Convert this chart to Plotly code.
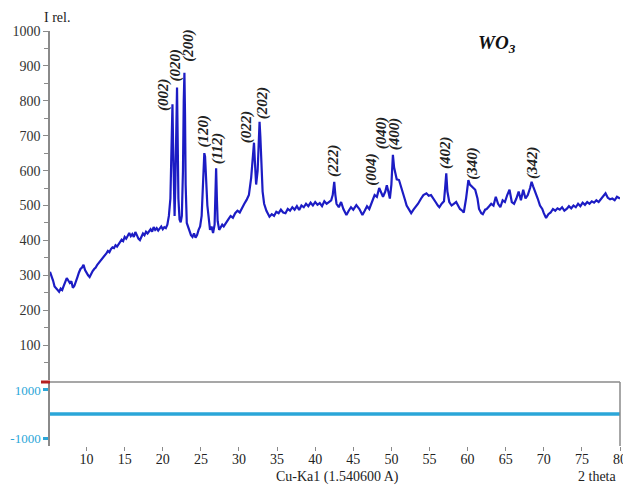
import plotly.graph_objects as go

two_theta = [5.2, 5.4, 5.6, 5.8, 6.0, 6.2, 6.4, 6.6, 6.8, 7.0, 7.2, 7.4, 7.6, 7.8, 8.0, 8.2, 8.4, 8.6, 8.8, 9.0,
             9.2, 9.4, 9.6, 9.8, 10.0, 10.2, 10.4, 10.6, 10.8, 11.0, 11.2, 11.4, 11.6, 11.8, 12.0, 12.2, 12.4, 12.6,
             12.8, 13.0, 13.2, 13.4, 13.6, 13.8, 14.0, 14.2, 14.4, 14.6, 14.8, 15.0, 15.2, 15.4, 15.6, 15.8, 16.0,
             16.2, 16.4, 16.6, 16.8, 17.0, 17.2, 17.4, 17.6, 17.8, 18.0, 18.2, 18.4, 18.6, 18.8, 19.0, 19.2, 19.4,
             19.6, 19.8, 20.0, 20.2, 20.4, 20.6, 20.8, 21.0, 21.1, 21.2, 21.27, 21.35, 21.45, 21.55, 21.65, 21.75,
             21.87, 21.95, 22.05, 22.2, 22.35, 22.5, 22.65, 22.75, 22.84, 22.92, 23.0, 23.15, 23.3, 23.5, 23.7,
             23.9, 24.1, 24.3, 24.5, 24.7, 24.9, 25.1, 25.3, 25.45, 25.55, 25.7, 25.85, 26.0, 26.2, 26.4, 26.6,
             26.8, 26.9, 27.0, 27.1, 27.2, 27.4, 27.6, 27.8, 28.0, 28.3, 28.6, 28.9, 29.2, 29.5, 29.8, 30.1, 30.4,
             30.7, 31.0, 31.3, 31.6, 31.8, 31.97, 32.1, 32.25, 32.45, 32.6, 32.7, 32.8, 32.95, 33.1, 33.3, 33.6,
             34.0, 34.3, 34.6, 34.9, 35.2, 35.5, 35.8, 36.1, 36.4, 36.7, 37.0, 37.3, 37.6, 37.9, 38.2, 38.5, 38.8,
             39.1, 39.4, 39.7, 40.0, 40.3, 40.6, 40.9, 41.2, 41.5, 41.8, 42.1, 42.3, 42.5, 42.65, 42.8, 43.1, 43.4,
             43.7, 44.1, 44.4, 44.7, 45.0, 45.4, 45.8, 46.2, 46.5, 46.8, 47.1, 47.5, 47.8, 48.1, 48.4, 48.7, 48.9,
             49.2, 49.4, 49.6, 49.8, 50.0, 50.2, 50.35, 50.5, 50.7, 51.0, 51.2, 51.5, 51.8, 52.0, 52.3, 52.6, 52.9,
             53.2, 53.5, 53.9, 54.2, 54.6, 54.9, 55.2, 55.5, 55.8, 56.1, 56.3, 56.6, 56.9, 57.05, 57.2, 57.35, 57.6,
             57.9, 58.2, 58.5, 58.8, 59.0, 59.3, 59.5, 59.8, 60.0, 60.1, 60.3, 60.5, 60.8, 61.0, 61.3, 61.5, 61.8,
             62.0, 62.3, 62.5, 62.8, 63.1, 63.4, 63.7, 64.0, 64.3, 64.6, 64.9, 65.2, 65.5, 65.8, 66.1, 66.4, 66.7,
             67.0, 67.3, 67.6, 67.9, 68.2, 68.4, 68.6, 68.9, 69.2, 69.5, 69.8, 70.0, 70.3, 70.6, 70.9, 71.2, 71.5,
             71.8, 72.1, 72.4, 72.7, 73.0, 73.3, 73.6, 73.9, 74.2, 74.5, 74.8, 75.1, 75.4, 75.7, 76.0, 76.3, 76.6,
             76.9, 77.2, 77.5, 77.8, 78.1, 78.4, 78.7, 79.0, 79.3, 79.6, 80.0]

intensity = [310, 300, 285, 268, 262, 258, 253, 262, 258, 270, 282, 292, 285, 278, 283, 264, 270, 280, 295, 308,
             318, 322, 330, 315, 305, 300, 295, 305, 312, 318, 322, 330, 335, 340, 348, 352, 358, 363,
             370, 366, 375, 380, 378, 386, 382, 390, 395, 402, 398, 410, 405, 415, 421, 412, 418,
             410, 424, 415, 405, 401, 412, 420, 415, 425, 420, 428, 432, 425, 438, 430, 435, 428,
             436, 440, 432, 438, 435, 445, 470, 520, 620, 740, 790, 680, 520, 470, 560, 720,
             838, 700, 520, 460, 452, 470, 600, 800, 880, 760, 560, 450, 440, 428, 415,
             410, 420, 408, 415, 430, 440, 470, 560, 650, 640, 560, 500, 470, 430, 440, 421,
             445, 520, 607, 520, 455, 430, 438, 445, 440, 452, 460, 470, 465, 478, 485, 480, 495,
             505, 516, 530, 580, 650, 680, 620, 560, 600, 700, 740, 700, 600, 540, 505, 485,
             468, 475, 470, 482, 478, 488, 480, 478, 490, 485, 495, 488, 498, 487, 500, 495, 505,
             498, 508, 500, 510, 502, 507, 498, 512, 505, 510, 515, 530, 568, 530, 505, 495, 510,
             490, 473, 485, 495, 488, 501, 490, 473, 485, 498, 490, 516, 530, 525, 550, 535, 525,
             540, 558, 540, 520, 560, 645, 610, 590, 575, 573, 560, 540, 515, 500, 490, 478, 488,
             495, 505, 520, 530, 535, 528, 530, 518, 510, 500, 495, 505, 512, 550, 592, 540, 510,
             500, 505, 510, 498, 490, 485, 480, 520, 560, 573, 560, 555, 548, 545, 520, 490, 478,
             475, 488, 490, 497, 505, 500, 525, 505, 495, 515, 510, 530, 545, 510, 505, 520, 540,
             515, 545, 520, 530, 550, 568, 555, 540, 520, 500, 490, 478, 464, 475, 480, 490, 485,
             492, 488, 495, 485, 490, 498, 492, 500, 495, 505, 498, 508, 502, 510, 505, 512, 508,
             515, 510, 518, 528, 535, 522, 518, 520, 515, 525, 520]

hkl_labels = ["(002)", "(020)", "(200)", "(120)", "(112)", "(022)", "(202)", "(222)",
              "(004)", "(040)", "(400)", "(402)", "(340)", "(342)"]
hkl_x = [20.0, 21.7, 23.4, 25.4, 27.3, 31.1, 33.1, 42.5, 47.4, 48.8, 50.5, 57.1, 60.6, 68.6]
hkl_y = [819, 903, 960, 715, 665, 725, 795, 628, 604, 708, 705, 652, 620, 622]

diff_x = [5.2, 80.0]
diff_y = [0, 0]

x_ticks = [10, 15, 20, 25, 30, 35, 40, 45, 50, 55, 60, 65, 70, 75, 80]
y_ticks = [100, 200, 300, 400, 500, 600, 700, 800, 900, 1000]
y_minor = [50, 150, 250, 350, 450, 550, 650, 750, 850, 950]
y2_ticks = [-1000, 1000]
y2_ticktext = ["-1000", "1000"]

SERIF = "Liberation Serif"
CYAN = "#2ba6d8"
GRAY = "#8a8a8a"

W, H = 623, 486
ml, mr, mt, mb = 50, 3, 31, 40
pw, ph = W - ml - mr, H - mt - mb


def px(x):
    return (x - ml) / pw


def py(y):
    return (H - mb - y) / ph


fig = go.Figure()
fig.add_trace(go.Scatter(x=two_theta, y=intensity, mode="lines",
                         line=dict(color="#1c1cc4", width=2.2), xaxis="x", yaxis="y",
                         showlegend=False, hoverinfo="skip"))
fig.add_trace(go.Scatter(x=diff_x, y=diff_y, mode="lines",
                         line=dict(color=CYAN, width=3.5), xaxis="x", yaxis="y2",
                         showlegend=False, hoverinfo="skip"))

for lab, lx, ly in zip(hkl_labels, hkl_x, hkl_y):
    fig.add_annotation(x=lx, y=ly, xref="x", yref="y", text="<b><i>" + lab + "</i></b>",
                       textangle=-90, showarrow=False, xanchor="center", yanchor="middle",
                       font=dict(family=SERIF, size=15, color="#222"))


def label(x, y, text, size=14, color="#222"):
    fig.add_annotation(x=px(x), y=py(y), xref="paper", yref="paper", text=text,
                       showarrow=False, xanchor="center", yanchor="middle",
                       font=dict(family=SERIF, size=size, color=color))


label(57, 17, "I rel.")
label(497, 44, "<b><i>WO<sub>3</sub></i></b>", size=19, color="#111")
label(337, 477, "Cu-Ka1 (1.540600 A)")
label(597, 476, "2 theta")

# bottom panel borders
fig.add_shape(type="line", xref="paper", yref="paper", x0=0, x1=1, y0=py(382), y1=py(382),
              line=dict(color=GRAY, width=1.5))
fig.add_shape(type="line", xref="paper", yref="paper", x0=1, x1=1, y0=py(382), y1=0,
              line=dict(color=GRAY, width=1.5))
fig.add_shape(type="line", xref="paper", yref="paper", x0=px(41), x1=px(50), y0=py(382), y1=py(382),
              line=dict(color="#b52020", width=3))

main_bottom = py(380)
bot_top = py(382)

fig.update_layout(
    template="none",
    width=W, height=H,
    margin=dict(l=ml, r=mr, t=mt, b=mb, pad=0),
    paper_bgcolor="white", plot_bgcolor="white",
    font=dict(family=SERIF, size=14, color="#222"),
    xaxis=dict(range=[5.2, 80], tickvals=x_ticks, ticks="outside", ticklen=4, tickcolor=GRAY,
               showline=False, showgrid=False, zeroline=False, anchor="y2", automargin=False,
               ticklabeloverflow="allow", ticklabelstandoff=-4,
               tickfont=dict(family=SERIF, size=14, color="#222")),
    yaxis=dict(domain=[main_bottom, 1], range=[0, 1000], tickvals=y_ticks, ticks="outside",
               ticklen=5, tickcolor=GRAY, showline=True, linecolor=GRAY, linewidth=1.5,
               showgrid=False, zeroline=False, anchor="x", automargin=False,
               minor=dict(tickvals=y_minor, ticks="outside", ticklen=4, tickcolor=GRAY),
               tickfont=dict(family=SERIF, size=14, color="#333")),
    yaxis2=dict(domain=[0, bot_top], range=[-1330, 1330], tickvals=y2_ticks, ticktext=y2_ticktext,
                ticks="outside", ticklen=5, tickwidth=3, tickcolor=CYAN, showline=True,
                linecolor=GRAY, linewidth=1.5,
                showgrid=False, zeroline=False, anchor="x", automargin=False,
                tickfont=dict(family=SERIF, size=13, color=CYAN)),
)

fig.write_html("out.html", config={"displayModeBar": False},
               post_script="document.body.style.margin='0';document.body.style.overflow='hidden';")
